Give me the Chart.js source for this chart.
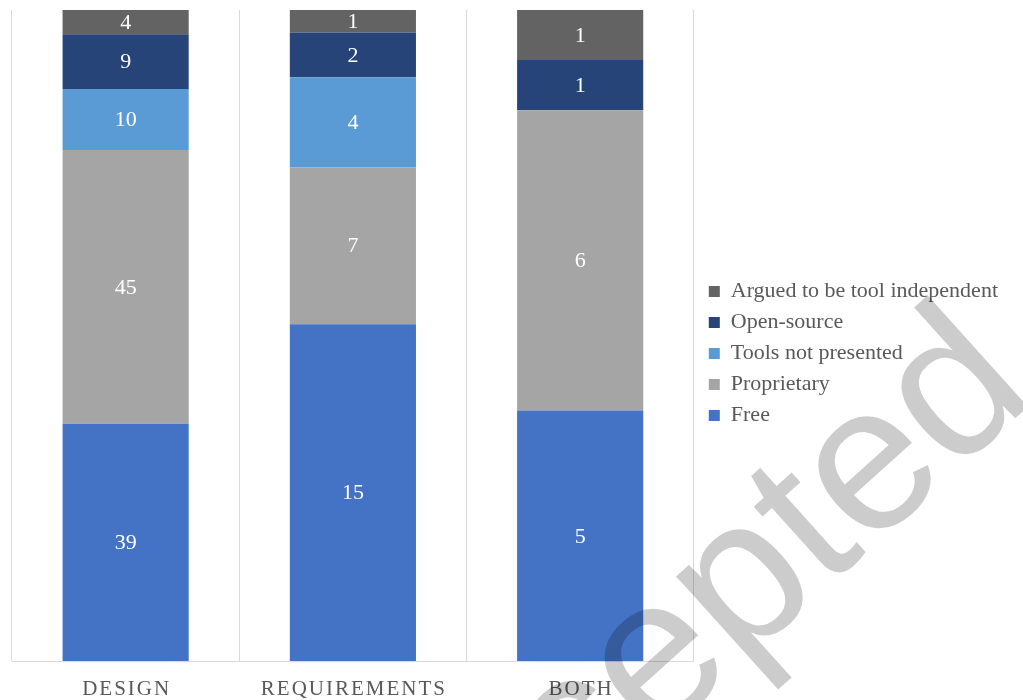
<!DOCTYPE html>
<html>
<head>
<meta charset="utf-8">
<script src="https://cdn.jsdelivr.net/npm/chart.js@4.4.1/dist/chart.umd.min.js"></script>
<style>
  html, body { margin: 0; padding: 0; background: #fff; }
  #wrap { width: 1023px; height: 700px; }
</style>
</head>
<body>
<div id="wrap"><canvas id="chart"></canvas></div>
<script>
// categories on the x axis
let categories = ['DESIGN', 'REQUIREMENTS', 'BOTH'];

// raw counts per category (bottom to top of the stack)
let free = [39, 15, 5];
let proprietary = [45, 7, 6];
let toolsNotPresented = [10, 4, 0];
let openSource = [9, 2, 1];
let toolIndependent = [4, 1, 1];

let seriesNames = ['Free', 'Proprietary', 'Tools not presented', 'Open-source', 'Argued to be tool independent'];
let seriesColors = ['#4472C4', '#A5A5A5', '#5B9BD5', '#264478', '#636363'];

let serif = "'Times New Roman', 'Liberation Serif', serif";

let raw = [free, proprietary, toolsNotPresented, openSource, toolIndependent];
let totals = categories.map(function (c, i) {
    return raw.reduce(function (s, arr) { return s + arr[i]; }, 0);
});

// 100% stacked: each segment is its share of the column
let datasets = raw.map(function (arr, k) {
    return {
        label: seriesNames[k],
        backgroundColor: seriesColors[k],
        data: arr.map(function (v, i) { return v / totals[i] * 100; }),
        counts: arr,
        borderWidth: 0,
        barPercentage: 0.555,
        categoryPercentage: 1
    };
});

// writes the raw counts in the middle of each segment
let segmentLabels = {
    id: 'segmentLabels',
    afterDatasetsDraw: function (chart) {
        let ctx = chart.ctx;
        ctx.save();
        ctx.font = '22px ' + serif;
        ctx.fillStyle = '#ffffff';
        ctx.textAlign = 'center';
        ctx.textBaseline = 'middle';
        chart.data.datasets.forEach(function (ds, k) {
            chart.getDatasetMeta(k).data.forEach(function (bar, i) {
                if (!ds.counts[i]) return;
                ctx.fillText(ds.counts[i], bar.x, (bar.y + bar.base) / 2 + 1);
            });
        });
        ctx.restore();
    }
};

// category names under the axis, spaced out like the original
let categoryLabels = {
    id: 'categoryLabels',
    afterDraw: function (chart) {
        let ctx = chart.ctx;
        let x = chart.scales.x;
        ctx.save();
        ctx.font = '21px ' + serif;
        ctx.letterSpacing = '2px';
        ctx.fillStyle = '#595959';
        ctx.textAlign = 'center';
        ctx.textBaseline = 'alphabetic';
        categories.forEach(function (c, i) {
            ctx.fillText(c, x.getPixelForTick(i) + 1, chart.chartArea.bottom + 34);
        });
        ctx.restore();
    }
};

// keep a little gap between plot and legend, and sit it a bit lower
let legendGap = {
    id: 'legendGap',
    afterLayout: function (chart) {
        chart.legend.left += 6;
        chart.legend.right += 6;
        chart.legend.top += 18;
        chart.legend.bottom += 18;
    }
};

// the big "Accepted" stamp across the picture
let stamp = {
    id: 'stamp',
    afterDraw: function (chart) {
        let ctx = chart.ctx;
        ctx.save();
        ctx.translate(397, 975);
        ctx.rotate(-42 * Math.PI / 180);
        ctx.font = "207px 'Liberation Sans', Arial, sans-serif";
        ctx.fillStyle = 'rgba(0,0,0,0.2)';
        ctx.textAlign = 'left';
        ctx.textBaseline = 'alphabetic';
        ctx.fillText('Accepted', 0, 0);
        ctx.restore();
    }
};

new Chart(document.getElementById('chart'), {
    type: 'bar',
    data: {
        labels: categories,
        datasets: datasets
    },
    plugins: [segmentLabels, categoryLabels, legendGap, stamp],
    options: {
        responsive: true,
        maintainAspectRatio: false,
        animation: false,
        layout: {
            padding: { top: 10, left: 12, right: 21, bottom: 39 }
        },
        scales: {
            x: {
                stacked: true,
                grid: {
                    display: true,
                    color: '#D9D9D9',
                    drawTicks: false,
                    offset: true
                },
                border: { display: true, color: '#D9D9D9' },
                ticks: { display: false }
            },
            y: {
                stacked: true,
                min: 0,
                max: 100,
                display: false
            }
        },
        plugins: {
            tooltip: { enabled: false },
            legend: {
                position: 'right',
                reverse: true,
                labels: {
                    boxWidth: 11,
                    boxHeight: 11,
                    padding: 9,
                    color: '#595959',
                    font: { family: serif, size: 22 }
                }
            }
        }
    }
});
</script>
</body>
</html>
